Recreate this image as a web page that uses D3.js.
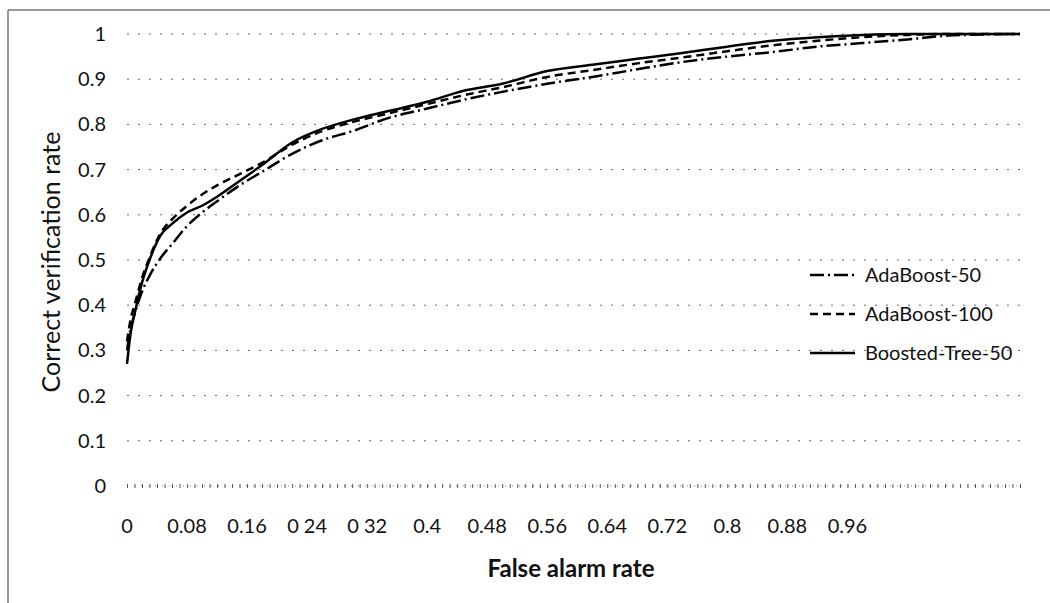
<!DOCTYPE html>
<html>
<head>
<meta charset="utf-8">
<script src="https://cdn.jsdelivr.net/npm/d3@7"></script>
<style>
  body { margin: 0; background: #fff; }
  text { font-family: Lato, "Open Sans", sans-serif; fill: #111; }
</style>
</head>
<body>
<div id="chart"></div>
<script>
const width = 1050;
const height = 603;

// false alarm rate (in axis label units, the category axis runs past 1)
const falseAlarm = [0, 0.005, 0.01, 0.02, 0.03, 0.045, 0.06, 0.08, 0.1, 0.12, 0.15, 0.18, 0.22, 0.26, 0.3,
  0.35, 0.4, 0.45, 0.5, 0.56, 0.62, 0.68, 0.74, 0.8, 0.86, 0.92, 0.98, 1.04, 1.1, 1.19];

const adaBoost50 = [0.3, 0.35, 0.38, 0.43, 0.465, 0.505, 0.535, 0.575, 0.605, 0.63, 0.665, 0.695, 0.735, 0.765, 0.785,
  0.815, 0.835, 0.855, 0.872, 0.89, 0.905, 0.922, 0.938, 0.95, 0.96, 0.972, 0.98, 0.988, 0.997, 1.0];
const adaBoost100 = [0.32, 0.37, 0.4, 0.46, 0.505, 0.56, 0.59, 0.62, 0.645, 0.665, 0.69, 0.715, 0.755, 0.785, 0.805,
  0.825, 0.845, 0.865, 0.882, 0.905, 0.92, 0.935, 0.948, 0.962, 0.975, 0.985, 0.993, 0.998, 1.0, 1.0];
const boostedTree50 = [0.27, 0.34, 0.38, 0.45, 0.5, 0.555, 0.58, 0.605, 0.62, 0.64, 0.675, 0.71, 0.76, 0.79, 0.81,
  0.83, 0.85, 0.875, 0.89, 0.918, 0.932, 0.945, 0.958, 0.972, 0.985, 0.993, 0.998, 1.0, 1.0, 1.0];

const seriesNames = ["AdaBoost-50", "AdaBoost-100", "Boosted-Tree-50"];
const seriesDash = ["14,4,2,4", "8,5", null];

const xTickLabels = ["0", "0.08", "0.16", "0 24", "0 32", "0.4", "0.48", "0.56", "0.64", "0.72", "0.8", "0.88", "0.96"];
const xTickValues = [0, 0.08, 0.16, 0.24, 0.32, 0.4, 0.48, 0.56, 0.64, 0.72, 0.8, 0.88, 0.96];
const yTickValues = [0, 0.1, 0.2, 0.3, 0.4, 0.5, 0.6, 0.7, 0.8, 0.9, 1];

const svg = d3.select("#chart")
  .append("svg")
  .attr("width", width)
  .attr("height", height);

// scanned frame edges
svg.append("line").attr("x1", 8).attr("x2", 1050).attr("y1", 10).attr("y2", 10)
  .attr("stroke", "#777").attr("stroke-width", 1.5);
svg.append("line").attr("x1", 8).attr("x2", 8).attr("y1", 10).attr("y2", 603)
  .attr("stroke", "#777").attr("stroke-width", 1.5);

const x = d3.scaleLinear().domain([0, 1.19]).range([127, 1020]);
const y = d3.scaleLinear().domain([0, 1]).range([486, 34]);

// gridlines (faint dotted)
svg.append("g")
  .selectAll("line")
  .data(yTickValues.filter(d => d > 0))
  .enter()
  .append("line")
  .attr("x1", x(0))
  .attr("x2", x(1.19))
  .attr("y1", d => y(d))
  .attr("y2", d => y(d))
  .attr("stroke", "#666")
  .attr("stroke-width", 1)
  .attr("stroke-dasharray", "2,9");

// x axis: dotted baseline with small category ticks
svg.append("line")
  .attr("x1", x(0)).attr("x2", x(1.19))
  .attr("y1", y(0)).attr("y2", y(0))
  .attr("stroke", "#888").attr("stroke-dasharray", "1,6");
svg.append("g")
  .attr("transform", `translate(0,${y(0) + 3})`)
  .call(d3.axisBottom(x).tickValues(d3.range(0, 1.195, 0.01)).tickSize(4).tickFormat(""))
  .call(g => g.select(".domain").remove())
  .call(g => g.selectAll(".tick line").attr("stroke", "#555").attr("transform", "translate(0,-5)"));

svg.append("g")
  .selectAll("text")
  .data(xTickValues)
  .enter()
  .append("text")
  .attr("x", d => x(d))
  .attr("y", 533)
  .attr("text-anchor", "middle")
  .style("font-size", "20px")
  .text((d, i) => xTickLabels[i]);

svg.append("g")
  .selectAll("text")
  .data(yTickValues)
  .enter()
  .append("text")
  .attr("x", 106)
  .attr("y", d => y(d) + 7)
  .attr("text-anchor", "end")
  .style("font-size", "20px")
  .text(d => d);

// axis titles
svg.append("text")
  .attr("x", 571)
  .attr("y", 577)
  .attr("text-anchor", "middle")
  .style("font-size", "24px")
  .style("font-weight", "bold")
  .text("False alarm rate");

svg.append("text")
  .attr("transform", "translate(60,262) rotate(-90)")
  .attr("text-anchor", "middle")
  .style("font-size", "25px")
  .text("Correct verification rate");

// curves
const allSeries = [adaBoost50, adaBoost100, boostedTree50];
const line = d3.line()
  .x((d, i) => x(falseAlarm[i]))
  .y(d => y(d))
  .curve(d3.curveMonotoneX);

svg.append("g")
  .selectAll("path")
  .data(allSeries)
  .enter()
  .append("path")
  .attr("d", d => line(d))
  .attr("fill", "none")
  .attr("stroke", "#000")
  .attr("stroke-width", 2.5)
  .attr("stroke-dasharray", (d, i) => seriesDash[i]);

// legend
const legend = svg.append("g")
  .selectAll("g")
  .data(seriesNames)
  .enter()
  .append("g")
  .attr("transform", (d, i) => `translate(810,${275 + i * 39})`);

legend.append("line")
  .attr("x1", 0).attr("x2", 45)
  .attr("stroke", "#000")
  .attr("stroke-width", 2.5)
  .attr("stroke-dasharray", (d, i) => seriesDash[i]);

legend.append("text")
  .attr("x", 55)
  .attr("y", 7)
  .style("font-size", "20px")
  .text(d => d);
</script>
</body>
</html>
